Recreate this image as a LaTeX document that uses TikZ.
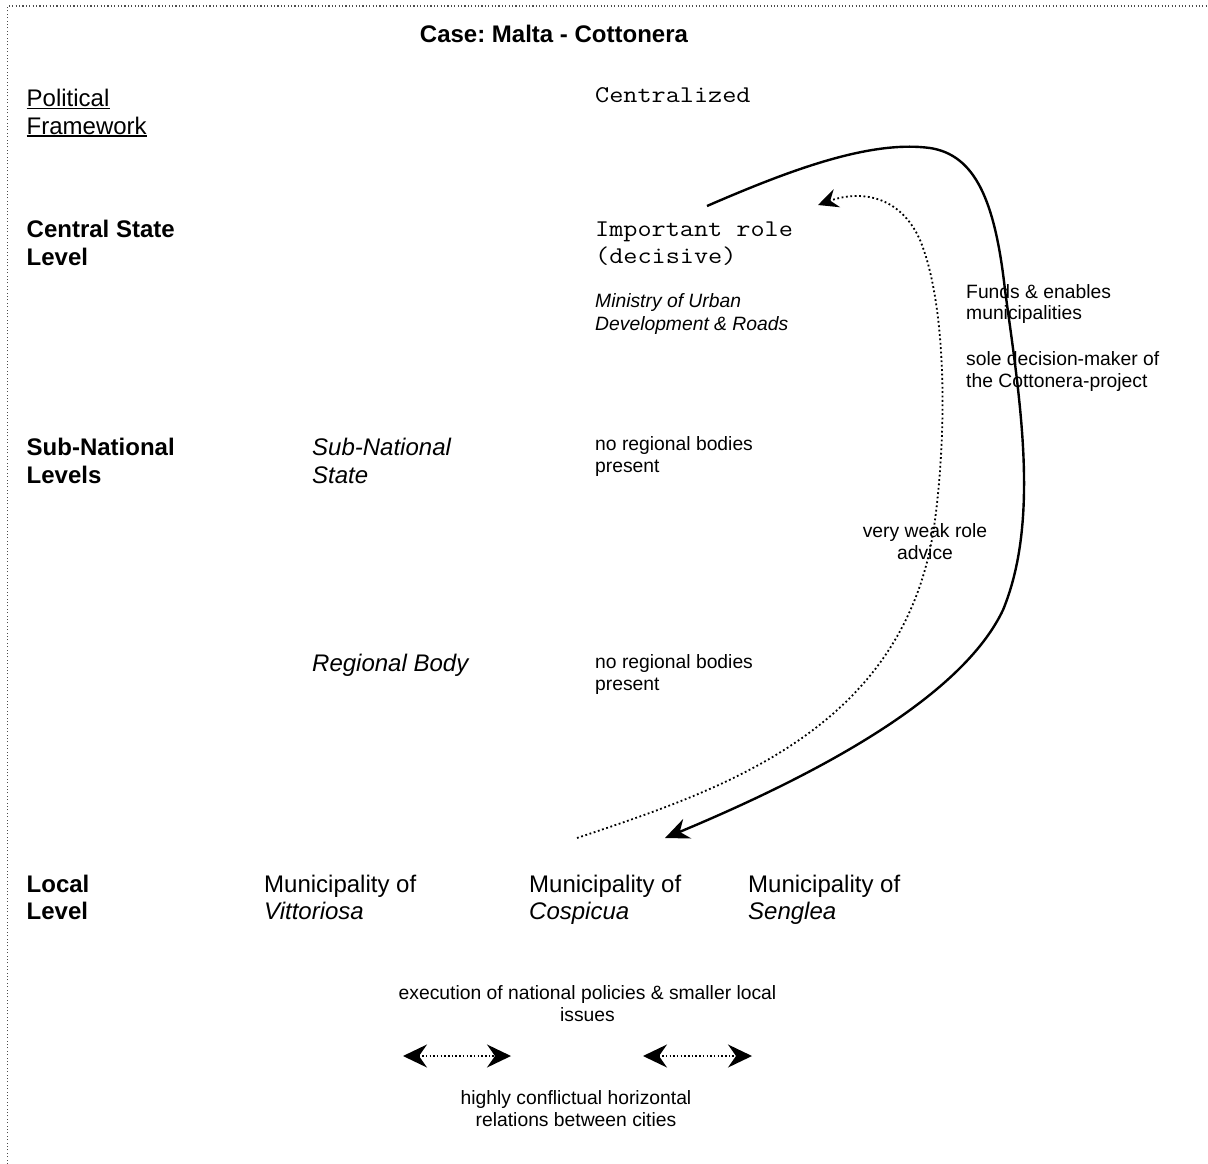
\documentclass[tikz,border=0pt]{standalone}
\usepackage{fontspec}
\usepackage{graphicx}
\setmainfont{Liberation Sans}
\usetikzlibrary{arrows.meta}
\frenchspacing
\newcommand\widett[1]{\scalebox{1.143}[1]{#1}}
\tikzset{
  txt/.style={inner sep=0pt, anchor=base west},
  big/.style={txt, font=\fontsize{24}{28}\selectfont},
  bigb/.style={txt, font=\fontsize{24}{28}\selectfont\bfseries},
  bigi/.style={txt, font=\fontsize{24}{28}\selectfont\itshape},
  mono/.style={txt, font=\fontsize{24}{28}\selectfont\ttfamily},
  small/.style={txt, font=\fontsize{19.3}{22}\selectfont},
  smalli/.style={txt, font=\fontsize{19.3}{22}\selectfont\itshape},
  smallc/.style={small, anchor=base},
  border/.style={line width=1.1pt, draw=black!70, dash pattern=on 1.1pt off 2.3pt},
  ulinestyle/.style={line width=1.5pt},
  solidarrow/.style={line width=2.4pt, -{Stealth[length=24pt,width=21pt,inset=8pt]}},
  dotarrow/.style={line width=1.8pt, dash pattern=on 1.8pt off 2.6pt, -{Stealth[length=20pt,width=19pt,inset=7pt]}},
  hrelarrow/.style={line width=1.5pt, dash pattern=on 1.5pt off 2.2pt,
    {Stealth[length=24pt,width=23pt,inset=8pt]}-{Stealth[length=24pt,width=23pt,inset=8pt]}}
}
\begin{document}
\begin{tikzpicture}[x=1pt,y=-1pt]
\useasboundingbox (0,0) rectangle (1208,1164);
% border
\coordinate (bl) at (7.5,1164);
\coordinate (tl) at (7.5,6);
\coordinate (tr) at (1208,6);
\draw[border] (bl) -- (tl) -- (tr);

% title
\node[bigb, anchor=base] (title) at (554,42.5) {Case: Malta - Cottonera};

% left column
\node[big] (pol1) at (26.5,106.5) {Political};
\node[big] (pol2) at (26.5,134) {Framework};
\draw[ulinestyle] ([yshift=-2pt]pol1.base west) -- ([yshift=-2pt]pol1.base east);
\draw[ulinestyle] ([yshift=-2pt]pol2.base west) -- ([yshift=-2pt]pol2.base east);
\node[bigb] (cs1) at (26.5,237.5) {Central State};
\node[bigb] (cs2) at (26.5,265) {Level};
\node[bigb] (sn1) at (26.5,455) {Sub-National};
\node[bigb] (sn2) at (26.5,483) {Levels};
\node[bigb] (ll1) at (26.5,892) {Local};
\node[bigb] (ll2) at (26.5,919.5) {Level};

% second column
\node[bigi] (sns1) at (312,455) {Sub-National};
\node[bigi] (sns2) at (312,483) {State};
\node[bigi] (reg) at (312,671) {Regional Body};

% third column
\node[mono] (centr) at (595,102.5) {\widett{Centralized}};
\node[mono] (imp1) at (595,236) {\widett{Important role}};
\node[mono] (imp2) at (595,263.5) {\widett{(decisive)}};
\node[smalli] (min1) at (595,307.5) {Ministry of Urban};
\node[smalli] (min2) at (595,330.5) {Development \& Roads};
\node[small] (nrb1) at (595,450.5) {no regional bodies};
\node[small] (nrb2) at (595,472.5) {present};
\node[small] (nrc1) at (595,668.5) {no regional bodies};
\node[small] (nrc2) at (595,690.5) {present};

% right labels
\node[small] (fu1) at (966,298) {Funds \& enables};
\node[small] (fu2) at (966,319.5) {municipalities};
\node[small] (so1) at (966,365) {sole decision-maker of};
\node[small] (so2) at (966,387) {the Cottonera-project};
\node[smallc] (vw1) at (925,537) {very weak role};
\node[smallc] (vw2) at (925,559) {advice};

% municipalities
\node[big] (mv1) at (264,892) {Municipality of};
\node[bigi] (mv2) at (264,919.5) {Vittoriosa};
\node[big] (mc1) at (529,892) {Municipality of};
\node[bigi] (mc2) at (529,919.5) {Cospicua};
\node[big] (ms1) at (748,892) {Municipality of};
\node[bigi] (ms2) at (748,919.5) {Senglea};

% bottom texts
\node[smallc] (ex1) at (587.5,999) {execution of national policies \& smaller local};
\node[smallc] (ex2) at (587.5,1021) {issues};
\node[smallc] (hc1) at (576,1104) {highly conflictual horizontal};
\node[smallc] (hc2) at (576,1126) {relations between cities};

% curved connectors
\coordinate (s0) at (707,206);
\coordinate (s1) at (665,838);
\draw[solidarrow] (s0) .. controls (790,170) and (870,140) .. (930,148)
  .. controls (975,155) and (995,200) .. (1005,290)
  .. controls (1020,400) and (1040,520) .. (1003,610)
  .. controls (965,690) and (840,765) .. (s1);
\coordinate (d0) at (577,838);
\coordinate (d1) at (818,205);
\draw[dotarrow] (d0) .. controls (720,790) and (908,730) .. (935,520)
  .. controls (948,420) and (945,300) .. (920,240)
  .. controls (900,195) and (860,190) .. (d1);

% horizontal relation arrows
\coordinate (h1a) at (403,1056);
\coordinate (h1b) at (511,1056);
\coordinate (h2a) at (643,1056);
\coordinate (h2b) at (752,1056);
\draw[hrelarrow] (h1a) -- (h1b);
\draw[hrelarrow] (h2a) -- (h2b);
\end{tikzpicture}
\end{document}
